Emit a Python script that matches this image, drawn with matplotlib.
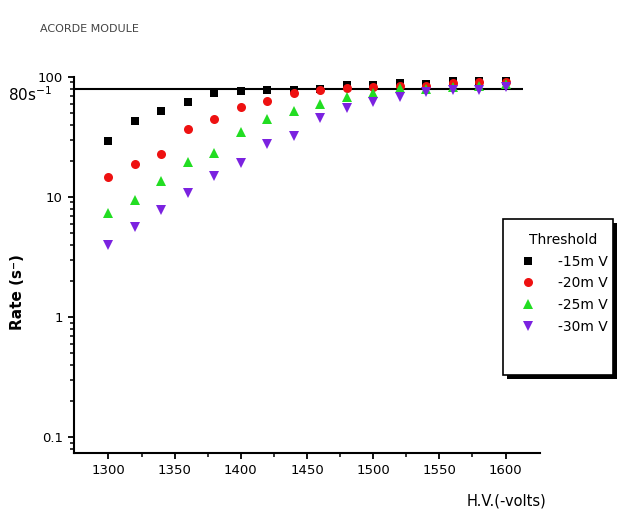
import matplotlib.pyplot as plt
from matplotlib.patches import Rectangle

# High voltage (-volts)
hv = [1300, 1320, 1340, 1360, 1380, 1400, 1420, 1440,
      1460, 1480, 1500, 1520, 1540, 1560, 1580, 1600]

# Rate (s^-1) per threshold
rate_15 = [29.3, 43, 52, 61.5, 74, 76, 77.5, 77.5, 80, 86, 86, 88.5, 87.5, 93, 93, 93]
rate_20 = [14.6, 18.7, 22.7, 37, 45, 56, 63, 73, 78, 80.5, 82, 84.5, 84.5, 89, 90, 90]
rate_25 = [7.4, 9.5, 13.5, 19.7, 23.4, 34.6, 44.7, 52.4, 59.6, 67.7, 73.6, 80.5, 79, 82, 83.6, 87]
rate_30 = [4.0, 5.6, 7.8, 10.8, 15, 19.2, 27.7, 32.4, 45.5, 55, 61.5, 67.7, 74.6, 78.4, 78.4, 82]

labels = ["-15m V", "-20m V", "-25m V", "-30m V"]
series = [rate_15, rate_20, rate_25, rate_30]
markers = ["s", "o", "^", "v"]
colors = ["black", "#ee1111", "#22dd22", "#7b22e0"]
sizes = [6, 6.5, 7.5, 7.5]

W, H = 620, 512
fig = plt.figure(figsize=(W / 100, H / 100), dpi=100)
ax = fig.add_axes([74 / W, 1 - 453 / H, (540 - 74) / W, (453 - 77) / H])

for y, lab, m, c, s in zip(series, labels, markers, colors, sizes):
    ax.plot(hv, y, linestyle="none", marker=m, color=c, markersize=s,
            markeredgewidth=0, label=lab)

ax.set_yscale("log")
ax.set_ylim(0.0736, 100)
ax.set_xlim(1274, 1626)
ax.set_xticks([1300, 1350, 1400, 1450, 1500, 1550, 1600])
ax.set_xticks([1325, 1375, 1425, 1475, 1525, 1575], minor=True)
ax.set_yticks([0.1, 1, 10, 100])
ax.set_yticklabels(["0.1", "1", "10", "100"])

for side in ["top", "right"]:
    ax.spines[side].set_visible(False)
for side in ["left", "bottom"]:
    ax.spines[side].set_linewidth(1.5)
ax.tick_params(which="major", length=4.5, width=1.3, labelsize=9.5)
ax.tick_params(which="minor", length=3, width=1.1)

# 80 s^-1 reference line
ax.hlines(80, 1274, 1613, color="black", linewidth=1.5, zorder=1)
fig.text(8 / W, 1 - 101 / H, r"80s$^{-1}$", fontsize=11)

fig.text(18 / W, 1 - 292 / H, "Rate (s\u207b)", fontsize=11, fontweight="bold",
         rotation=90, ha="center", va="center")
fig.text(546 / W, 1 - 506 / H, "H.V.(-volts)", fontsize=10.5, ha="right")
fig.text(40 / W, 1 - 32 / H, "ACORDE MODULE", fontsize=8, color="#444444",
         family=["Liberation Sans Narrow", "DejaVu Sans"])

# legend box with solid shadow
ax.add_patch(Rectangle((507 / W, 1 - 379 / H), 110 / W, 156 / H,
                       transform=fig.transFigure, facecolor="black",
                       edgecolor="none", zorder=3, clip_on=False))
ax.add_patch(Rectangle((503 / W, 1 - 375 / H), 110 / W, 156 / H,
                       transform=fig.transFigure, facecolor="white",
                       edgecolor="black", linewidth=1.2, zorder=4, clip_on=False))
leg = ax.legend(title="Threshold", loc="upper left",
                bbox_to_anchor=(518 / W, 1 - 233 / H),
                bbox_transform=fig.transFigure, fontsize=10,
                title_fontsize=10, frameon=False,
                borderpad=0, labelspacing=0.55, handletextpad=1.4,
                handlelength=1.5, borderaxespad=0)
leg.set_zorder(5)

fig.savefig("out.png", dpi=100)
